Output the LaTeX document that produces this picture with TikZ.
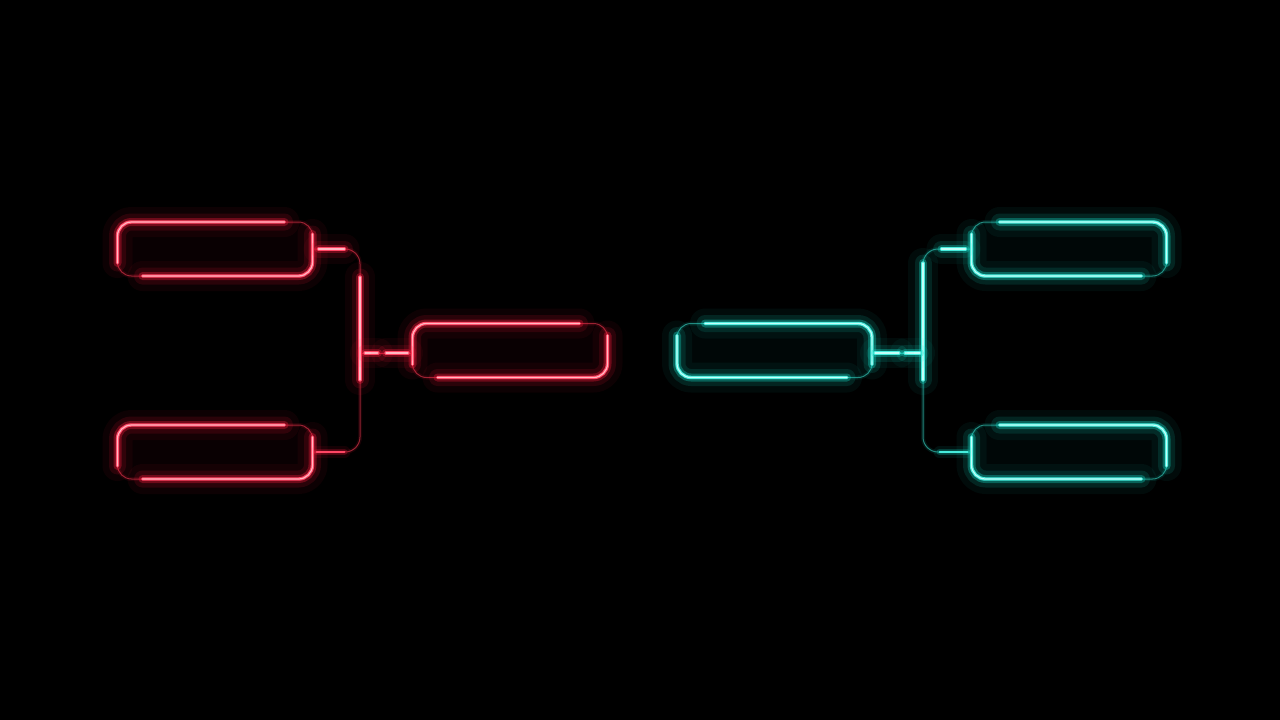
\documentclass[tikz,border=0pt]{standalone}
\usetikzlibrary{calc}
\definecolor{rglow}{RGB}{255,25,60}
\definecolor{rcore}{RGB}{255,70,100}
\definecolor{rhot}{RGB}{255,185,195}
\definecolor{rdim}{RGB}{150,35,50}
\definecolor{cglow}{RGB}{20,225,205}
\definecolor{ccore}{RGB}{70,235,220}
\definecolor{chot}{RGB}{195,255,248}
\definecolor{cdim}{RGB}{35,135,125}
\tikzset{
  neon/.style={line cap=round, line join=round, rounded corners=14pt,
    preaction={draw=#1glow, line cap=round, line join=round, line width=30pt, draw opacity=0.05},
    preaction={draw=#1glow, line cap=round, line join=round, line width=17pt, draw opacity=0.12},
    preaction={draw=#1glow, line cap=round, line join=round, line width=8pt, draw opacity=0.32},
    preaction={draw=#1core, line cap=round, line join=round, line width=3.4pt},
    draw=#1hot, line width=1.2pt},
  softneon/.style={line cap=round, rounded corners=14pt,
    preaction={draw=#1glow, line cap=round, line width=12pt, draw opacity=0.08},
    preaction={draw=#1glow, line cap=round, line width=6pt, draw opacity=0.22},
    draw=#1core, line width=2pt},
  dimline/.style={draw=#1dim, line width=1pt,
    preaction={draw=#1glow, line width=4pt, draw opacity=0.10}},
  bracketbox/.style={rectangle, rounded corners=14pt, minimum width=195pt,
    minimum height=54pt, inner sep=0pt, outer sep=0pt, dimline=#1,
    fill=#1glow, fill opacity=0.035}
}
\newcommand\litred[1]{%
  \draw[neon=r] ($(#1.south west)+(0,-13)$) -- (#1.north west) -- ($(#1.north east)+(-28,0)$);
  \draw[neon=r] ($(#1.north east)+(0,12)$) -- (#1.south east) -- ($(#1.south west)+(25,0)$);}
\newcommand\litcyan[1]{%
  \draw[neon=c] ($(#1.south east)+(0,-13)$) -- (#1.north east) -- ($(#1.north west)+(28,0)$);
  \draw[neon=c] ($(#1.north west)+(0,12)$) -- (#1.south west) -- ($(#1.south east)+(-25,0)$);}
\begin{document}
\begin{tikzpicture}[x=1pt,y=-1pt]
\fill[black] (0,0) rectangle (1280,720);
\useasboundingbox (0,0) rectangle (1280,720);
% red side
\node[bracketbox=r] (A) at (215,249) {};
\node[bracketbox=r] (B) at (215,452) {};
\node[bracketbox=r] (C) at (510,350.5) {};
\coordinate (jL) at (360,353);
\draw[dimline=r, rounded corners=15pt] (A.east) -| (jL);
\draw[dimline=r, rounded corners=15pt] (B.east) -| (jL);
\draw[dimline=r] (jL) -- (jL -| C.west);
\litred{A}\litred{B}\litred{C}
\draw[neon=r] ($(A.east)+(6,0)$) -- ($(A.east)+(32,0)$);
\draw[neon=r] ($(jL)+(0,-76)$) -- ($(jL)+(0,27)$);
\draw[neon=r] ($(jL)+(5,0)$) -- ($(jL)+(18,0)$);
\draw[neon=r] ($(jL)+(26,0)$) -- ($(jL)+(48,0)$);
\draw[softneon=r] ($(B.east)+(4,0)$) -- ($(B.east)+(32,0)$);
% cyan side
\node[bracketbox=c] (D) at (774.5,350.5) {};
\node[bracketbox=c] (E) at (1069,249) {};
\node[bracketbox=c] (F) at (1069,452) {};
\coordinate (jR) at (923,353);
\draw[dimline=c, rounded corners=15pt] (E.west) -| (jR);
\draw[dimline=c, rounded corners=15pt] (F.west) -| (jR);
\draw[dimline=c] (jR) -- (jR -| D.east);
\litcyan{D}\litcyan{E}\litcyan{F}
\draw[neon=c] ($(E.west)+(-6,0)$) -- ($(E.west)+(-30,0)$);
\draw[neon=c] ($(jR)+(0,-90)$) -- ($(jR)+(0,27)$);
\draw[neon=c] ($(jR)+(-3,0)$) -- ($(jR)+(-18,0)$);
\draw[neon=c] ($(jR)+(-24,0)$) -- ($(jR)+(-48,0)$);
\draw[softneon=c] ($(F.west)+(-4,0)$) -- ($(F.west)+(-32,0)$);
\end{tikzpicture}
\end{document}
